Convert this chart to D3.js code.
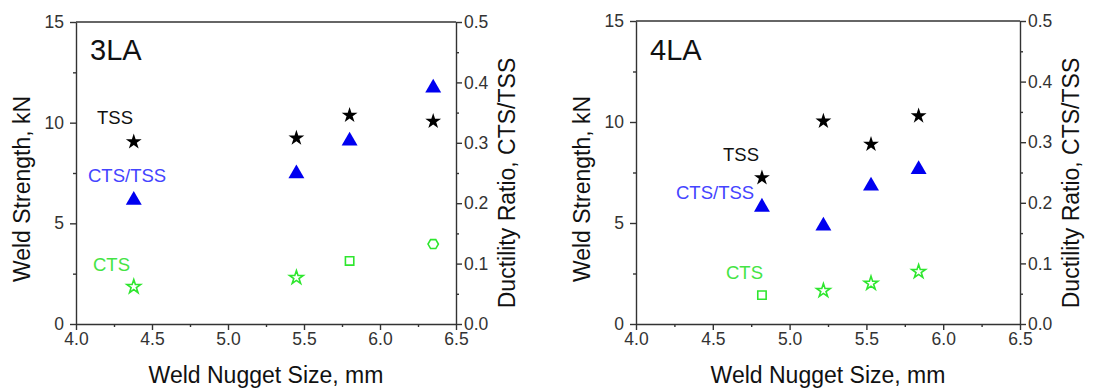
<!DOCTYPE html>
<html>
<head>
<meta charset="utf-8">
<script src="https://cdn.jsdelivr.net/npm/d3@7"></script>
<style>
    body { margin: 0; background: #fff; }
    svg { display: block; font-family: "Liberation Sans", Arial, sans-serif; }
    .tick text { font-size: 17.5px; fill: #333; }
    .domain, .tick line { stroke: #333; stroke-width: 1.4; }
</style>
</head>
<body>
<svg id="chart" width="1114" height="392"></svg>
<script>
// Weld nugget size vs strength, two steels
var nuggetSize3LA = [4.38, 5.45, 5.80, 6.35];
var tss3LA = [9.05, 9.24, 10.37, 10.07];
var cts3LA = [1.85, 2.30, 3.13, 3.97];
var ratio3LA = [0.205, 0.249, 0.303, 0.391];

var nuggetSize4LA = [4.82, 5.22, 5.53, 5.84];
var tss4LA = [7.24, 10.04, 8.90, 10.30];
var cts4LA = [1.43, 1.65, 2.01, 2.59];
var ratio4LA = [0.193, 0.162, 0.228, 0.255];

var sizeTicks = [4.0, 4.5, 5.0, 5.5, 6.0, 6.5];
var strengthTicks = [0, 5, 10, 15];
var ratioTicks = [0.0, 0.1, 0.2, 0.3, 0.4, 0.5];

(function() {
    'use strict';

    var svg = d3.select('#chart');
    var green = '#2ee62e';
    var blue = '#0000f0';

    // open hexagon used for one CTS point
    var symbolHex = {
        draw: function(ctx, size) {
            var r = Math.sqrt(size / 2.598);
            for (var i = 0; i < 6; i++) {
                var a = Math.PI / 3 * i;
                var px = r * Math.cos(a), py = r * Math.sin(a);
                if (i === 0) ctx.moveTo(px, py); else ctx.lineTo(px, py);
            }
            ctx.closePath();
        }
    };
    var shapes = { star: d3.symbolStar, square: d3.symbolSquare, hex: symbolHex };

    function panel(p) {
        var x = d3.scaleLinear().domain([4, 6.5]).range([p.left, p.right]);
        var y = d3.scaleLinear().domain([0, 15]).range([p.bottom, p.top]);
        var yr = d3.scaleLinear().domain([0, 0.5]).range([p.bottom, p.top]);
        var g = svg.append('g');

        // top frame line
        g.append('line')
            .attr('x1', p.left).attr('x2', p.right)
            .attr('y1', p.top).attr('y2', p.top)
            .attr('stroke', '#333').attr('stroke-width', 1.4);

        // minor ticks
        g.append('g').attr('transform', 'translate(0,' + p.bottom + ')')
            .call(d3.axisBottom(x).tickValues(d3.range(4.25, 6.5, 0.5)).tickSize(3).tickFormat(''))
            .call(function(s) { s.select('.domain').remove(); });
        g.append('g').attr('transform', 'translate(' + p.left + ',0)')
            .call(d3.axisLeft(y).tickValues([2.5, 7.5, 12.5]).tickSize(3).tickFormat(''))
            .call(function(s) { s.select('.domain').remove(); });
        g.append('g').attr('transform', 'translate(' + p.right + ',0)')
            .call(d3.axisRight(yr).tickValues(d3.range(0.05, 0.5, 0.1)).tickSize(3).tickFormat(''))
            .call(function(s) { s.select('.domain').remove(); });

        // major axes
        g.append('g').attr('transform', 'translate(0,' + p.bottom + ')')
            .call(d3.axisBottom(x).tickValues(sizeTicks).tickFormat(d3.format('.1f'))
                .tickSize(6).tickSizeOuter(0).tickPadding(3));
        g.append('g').attr('transform', 'translate(' + p.left + ',0)')
            .call(d3.axisLeft(y).tickValues(strengthTicks).tickSize(6).tickSizeOuter(0).tickPadding(6));
        g.append('g').attr('transform', 'translate(' + p.right + ',0)')
            .call(d3.axisRight(yr).tickValues(ratioTicks).tickFormat(d3.format('.1f'))
                .tickSize(6).tickSizeOuter(0).tickPadding(2));

        // axis titles
        var cx = (p.left + p.right) / 2;
        g.append('text').attr('x', cx).attr('y', 383)
            .attr('text-anchor', 'middle').attr('font-size', 23).attr('fill', '#111')
            .text('Weld Nugget Size, mm');
        g.append('text')
            .attr('transform', 'translate(' + (p.left - 46) + ',189) rotate(-90)')
            .attr('text-anchor', 'middle').attr('font-size', 23).attr('fill', '#111')
            .text('Weld Strength, kN');
        g.append('text')
            .attr('transform', 'translate(' + (p.right + 59) + ',183) rotate(-90)')
            .attr('text-anchor', 'middle').attr('font-size', 23).attr('fill', '#111')
            .text('Ductility Ratio, CTS/TSS');

        // panel name and series labels
        g.append('text').attr('x', p.left + 14).attr('y', 60)
            .attr('font-size', 29).attr('fill', '#111').text(p.name);
        p.labels.forEach(function(l) {
            g.append('text').attr('x', p.left + l.dx).attr('y', l.y)
                .attr('dy', '0.35em').attr('font-size', 18.5).attr('fill', l.color).text(l.text);
        });

        // TSS - filled black stars
        g.selectAll('.tss').data(p.tss).join('path')
            .attr('transform', function(d, i) { return 'translate(' + x(p.sizes[i]) + ',' + y(d) + ')'; })
            .attr('d', d3.symbol(d3.symbolStar, 78))
            .attr('fill', '#000');

        // CTS/TSS - filled blue triangles on the ratio axis
        g.selectAll('.ratio').data(p.ratio).join('path')
            .attr('transform', function(d, i) { return 'translate(' + x(p.sizes[i]) + ',' + yr(d) + ')'; })
            .attr('d', d3.symbol(d3.symbolTriangle, 110))
            .attr('fill', blue);

        // CTS - open green markers
        g.selectAll('.cts').data(p.cts).join('path')
            .attr('transform', function(d, i) { return 'translate(' + x(p.sizes[i]) + ',' + y(d) + ')'; })
            .attr('d', function(d, i) {
                var s = p.ctsShapes[i];
                return d3.symbol(shapes[s], s === 'star' ? 58 : 70)();
            })
            .attr('fill', 'none').attr('stroke', green).attr('stroke-width', 1.6);
    }

    panel({
        left: 76, right: 456, top: 22, bottom: 324, name: '3LA',
        sizes: nuggetSize3LA, tss: tss3LA, cts: cts3LA, ratio: ratio3LA,
        ctsShapes: ['star', 'star', 'square', 'hex'],
        labels: [
            { text: 'TSS', dx: 21, y: 118, color: '#111' },
            { text: 'CTS/TSS', dx: 12, y: 176, color: '#4444ff' },
            { text: 'CTS', dx: 17, y: 265, color: '#44e444' }
        ]
    });

    panel({
        left: 636, right: 1020, top: 21, bottom: 324, name: '4LA',
        sizes: nuggetSize4LA, tss: tss4LA, cts: cts4LA, ratio: ratio4LA,
        ctsShapes: ['square', 'star', 'star', 'star'],
        labels: [
            { text: 'TSS', dx: 87, y: 155, color: '#111' },
            { text: 'CTS/TSS', dx: 40, y: 193, color: '#4444ff' },
            { text: 'CTS', dx: 90, y: 273, color: '#44e444' }
        ]
    });
})();
</script>
</body>
</html>
